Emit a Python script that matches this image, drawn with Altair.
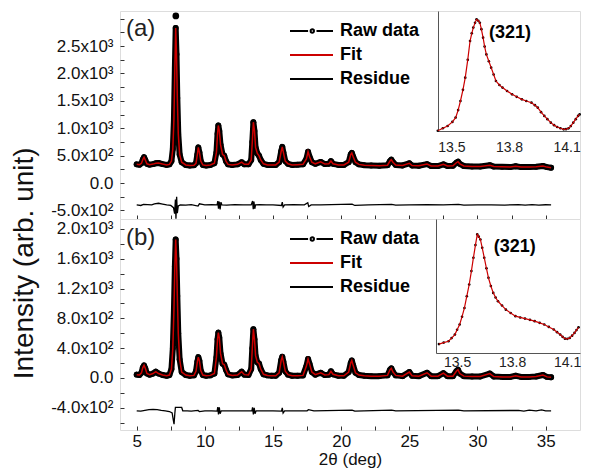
import altair as alt
import pandas as pd

FONT = "Liberation Sans"

# ---------------- shared 2-theta grid of the main patterns ----------------
main_x = [
    5.00, 5.20, 5.35, 5.45, 5.54, 5.63, 5.75, 5.95, 6.20, 6.40,
    6.60, 6.90, 7.20, 7.40, 7.55, 7.65, 7.73, 7.80, 7.86, 7.92,
    7.98, 8.05, 8.15, 8.30, 8.60, 8.90, 9.20, 9.35, 9.45, 9.52,
    9.60, 9.70, 9.85, 10.10, 10.40, 10.70, 10.85, 10.93, 10.99, 11.06,
    11.15, 11.30, 11.42, 11.55, 11.70, 12.00, 12.40, 12.70, 12.90, 13.20,
    13.40, 13.48, 13.56, 13.64, 13.72, 13.85, 13.97, 14.10, 14.30, 14.60,
    14.90, 15.20, 15.45, 15.60, 15.68, 15.76, 15.90, 16.10, 16.40, 16.80,
    17.20, 17.45, 17.57, 17.68, 17.85, 18.10, 18.50, 18.80, 19.10, 19.25,
    19.40, 19.80, 20.20, 20.55, 20.70, 20.78, 20.88, 21.05, 21.30, 21.70,
    22.20, 22.80, 23.40, 23.58, 23.68, 23.80, 24.00, 24.50, 25.00, 25.20,
    25.70, 26.30, 26.60, 27.10, 27.50, 27.80, 28.20, 28.45, 28.57, 28.70,
    29.00, 29.60, 30.20, 30.90, 31.20, 31.80, 32.40, 32.80, 33.20, 33.80,
    34.30, 34.80, 35.10, 35.40,
]

# ---------------- panel (a) ----------------
a_fit = [
    340, 335, 360, 430, 470, 420, 350, 335, 345, 360,
    365, 345, 330, 340, 400, 620, 1150, 2100, 2830, 2350,
    1550, 900, 520, 380, 330, 320, 325, 360, 520, 650,
    560, 400, 330, 320, 330, 360, 560, 900, 1050, 950,
    700, 520, 500, 400, 340, 330, 340, 380, 340, 340,
    420, 750, 1110, 950, 650, 540, 500, 420, 350, 330,
    330, 330, 380, 580, 660, 560, 400, 350, 330, 335,
    340, 440, 570, 480, 380, 350, 385, 345, 350, 400,
    350, 330, 330, 380, 520, 550, 480, 380, 340, 325,
    320, 315, 325, 400, 425, 380, 330, 320, 360, 320,
    315, 345, 310, 310, 340, 310, 315, 370, 390, 350,
    310, 300, 300, 325, 300, 295, 290, 305, 290, 290,
    295, 310, 290, 280,
]
a_apex_x = [7.87]
a_apex_y = [3050]

a_res_x = [
    5.00, 5.30, 5.50, 5.80, 6.10, 6.30, 6.60, 6.90, 7.20, 7.50,
    7.70, 7.78, 7.84, 7.88, 7.93, 7.98, 8.05, 8.20, 8.60, 9.00,
    9.50, 9.60, 10.00, 10.50, 10.90, 10.95, 11.00, 11.05, 11.12, 11.18,
    11.25, 11.60, 12.20, 12.80, 13.40, 13.50, 13.55, 13.60, 13.66, 13.72,
    14.00, 14.50, 15.00, 15.62, 15.68, 15.74, 15.85, 16.50, 17.30, 17.55,
    17.62, 17.80, 18.50, 20.80, 21.00, 22.00, 23.70, 24.00, 25.00, 26.30,
    27.50, 28.60, 29.00, 30.00, 31.00, 32.00, 33.00, 33.50, 34.00, 34.50,
    35.00, 35.40,
]
a_res_y = [
    -400, -410, -390, -395, -400, -380, -370, -385, -400, -410,
    -450, -560, -300, -650, -250, -550, -420, -400, -405, -395,
    -420, -380, -400, -395, -400, -330, -470, -340, -480, -350,
    -400, -405, -395, -400, -400, -330, -480, -340, -470, -400,
    -395, -400, -400, -410, -350, -440, -400, -395, -400, -360,
    -430, -400, -398, -385, -410, -400, -390, -405, -400, -395,
    -400, -390, -402, -398, -400, -402, -395, -405, -396, -403,
    -397, -400,
]

a_ins_x = [
    13.429, 13.455, 13.480, 13.505, 13.522, 13.535, 13.547, 13.560, 13.572, 13.585,
    13.597, 13.606, 13.614, 13.623, 13.631, 13.640, 13.648, 13.656, 13.665, 13.673,
    13.682, 13.695, 13.707, 13.720, 13.732, 13.750, 13.766, 13.790, 13.816, 13.840,
    13.867, 13.890, 13.917, 13.935, 13.950, 13.967, 13.984, 14.000, 14.018, 14.035,
    14.051, 14.068, 14.085, 14.097, 14.110, 14.122, 14.135, 14.148, 14.160, 14.168,
]
a_ins_y = [
    322, 340, 356, 385, 416, 470, 535, 615, 702, 830,
    965, 1020, 1061, 1095, 1120, 1110, 1096, 1050, 989, 925,
    869, 820, 774, 725, 678, 650, 631, 607, 583, 565,
    547, 535, 523, 505, 487, 455, 428, 405, 380, 362,
    349, 340, 332, 333, 339, 355, 380, 405, 428, 439,
]

# ---------------- panel (b) ----------------
b_fit = [
    45, 40, 70, 140, 170, 130, 60, 45, 60, 85,
    60, 40, 30, 40, 120, 400, 900, 1500, 1860, 1600,
    1100, 600, 250, 80, 40, 30, 35, 90, 220, 280,
    230, 100, 40, 30, 35, 60, 280, 520, 610, 540,
    330, 190, 180, 110, 50, 35, 40, 85, 45, 40,
    120, 400, 655, 520, 300, 210, 195, 120, 50, 35,
    30, 30, 70, 240, 285, 220, 90, 45, 30, 30,
    35, 160, 255, 190, 80, 45, 70, 40, 45, 90,
    50, 30, 30, 80, 200, 235, 170, 70, 40, 30,
    25, 25, 35, 110, 130, 80, 35, 25, 80, 30,
    25, 70, 25, 25, 65, 25, 25, 90, 110, 60,
    25, 20, 20, 60, 20, 15, 15, 30, 15, 15,
    20, 40, 15, 10,
]

b_res_x = [
    5.00, 5.30, 5.60, 5.90, 6.20, 6.50, 6.80, 7.10, 7.40, 7.60,
    7.68, 7.74, 7.80, 7.84, 8.30, 8.38, 8.70, 9.00, 9.50, 9.60,
    10.00, 10.50, 10.90, 10.95, 11.00, 11.06, 11.12, 11.20, 11.60, 12.20,
    12.80, 13.45, 13.50, 13.56, 13.62, 13.68, 13.76, 14.20, 15.00, 15.62,
    15.68, 15.74, 15.85, 16.50, 17.50, 17.60, 18.00, 20.80, 21.00, 23.70,
    24.00, 28.60, 29.00, 33.00, 33.40, 33.80, 34.30, 34.70, 35.00, 35.40,
]
b_res_y = [
    -440, -445, -435, -425, -420, -425, -435, -440, -450, -470,
    -560, -620, -470, -395, -395, -440, -440, -445, -435, -450,
    -440, -440, -445, -390, -490, -395, -480, -440, -440, -442,
    -440, -440, -395, -490, -400, -480, -440, -440, -440, -445,
    -400, -470, -440, -440, -440, -425, -440, -430, -445, -432,
    -442, -432, -442, -435, -445, -432, -440, -428, -440, -440,
]

b_ins_x = [
    13.401, 13.427, 13.453, 13.470, 13.488, 13.500, 13.514, 13.527, 13.540, 13.553,
    13.566, 13.578, 13.589, 13.600, 13.610, 13.618, 13.627, 13.637, 13.648, 13.660,
    13.671, 13.684, 13.697, 13.710, 13.723, 13.745, 13.766, 13.792, 13.818, 13.844,
    13.870, 13.897, 13.923, 13.950, 13.975, 14.000, 14.027, 14.045, 14.062, 14.075,
    14.088, 14.101, 14.114, 14.127, 14.140, 14.151, 14.162,
]
b_ins_y = [
    88, 96, 103, 120, 139, 165, 193, 235, 282, 345,
    408, 480, 552, 620, 677, 665, 650, 605, 552, 495,
    444, 400, 363, 338, 318, 295, 273, 255, 238, 231,
    225, 218, 211, 202, 193, 180, 166, 152, 139, 127,
    117, 116, 121, 133, 148, 163, 178,
]

# ---------------- axes / labels ----------------
x_ticks = [5, 7.5, 10, 12.5, 15, 17.5, 20, 22.5, 25, 27.5, 30, 32.5, 35]
x_label_vals = [5, 10, 15, 20, 25, 30, 35]
x_labels = ["5", "10", "15", "20", "25", "30", "35"]

a_yticks = [-500, -250, 0, 250, 500, 750, 1000, 1250, 1500, 1750, 2000, 2250, 2500, 2750, 3000]
a_ylab_vals = [-500, 0, 500, 1000, 1500, 2000, 2500]
a_ylabs = ["-5.0x10²", "0.0", "5.0x10²", "1.0x10³", "1.5x10³", "2.0x10³", "2.5x10³"]

b_yticks = [-600, -400, -200, 0, 200, 400, 600, 800, 1000, 1200, 1400, 1600, 1800, 2000]
b_ylab_vals = [-400, 0, 400, 800, 1200, 1600, 2000]
b_ylabs = ["-4.0x10²", "0.0", "4.0x10²", "8.0x10²", "1.2x10³", "1.6x10³", "2.0x10³"]

inset_ticks = [13.5, 13.8, 14.1]
inset_label = ["(321)"]
panel_tags = ["(a)", "(b)"]
y_title = "Intensity (arb. unit)"
x_title = "2θ (deg)"

legend_labels = ["Raw data", "Fit", "Residue"]
legend_colors = ["#000000", "#cc0000", "#000000"]
legend_paths = [
    "M-0.8,0L2.82,0M4.5,0L7.8,0M3.32,0A0.34,0.34 0 1,1 4.0,0A0.34,0.34 0 1,1 3.32,0Z",
    "M-0.8,0L7.8,0",
    "M-0.8,0L7.8,0",
]

X_DOMAIN = [3.775, 37.52]
W = 460


def expr_map(vals, labels):
    e = "''"
    for v, l in reversed(list(zip(vals, labels))):
        e = f"datum.value == {v} ? '{l}' : {e}"
    return e


def make_panel(fit, res_x, res_y, ydom, yticks, ylab_vals, ylabs, height,
               show_x, tag, ins_x, ins_y, ins_xdom, ins_ydom,
               ins_xrange, ins_yrange, ins_lab_x, ins_lab_y, ins_pad,
               apex_x=None, apex_y=None):
    xs = alt.Scale(domain=X_DOMAIN, nice=False, zero=False)
    ys = alt.Scale(domain=ydom, nice=False, zero=False)

    xa = dict(orient="bottom", values=x_ticks, domain=False, offset=-4, tickSize=4,
              tickColor="#333", grid=False, labelOverlap=False, labelFlush=False)
    if show_x:
        xa.update(labels=True, labelExpr=expr_map(x_label_vals, x_labels),
                  labelFontSize=17, labelColor="#111", labelPadding=3, labelFont=FONT,
                  title=x_title, titleFontSize=17, titleFont=FONT,
                  titleFontWeight="normal", titleColor="#111", titleY=25,
                  titleBaseline="top")
    else:
        xa.update(labels=False, title=None)
    xaxis = alt.Axis(**xa)

    yaxis = alt.Axis(orient="left", values=yticks, domain=False, offset=-4, tickSize=4,
                     tickColor="#333", grid=False, labelOverlap=False, labelFlush=False,
                     labelExpr=expr_map(ylab_vals, ylabs), labelFontSize=17,
                     labelColor="#111", labelPadding=7, labelFont=FONT, title=None)

    df = pd.DataFrame({"x": main_x, "fit": fit})
    rdf = pd.DataFrame({"x": res_x, "res": res_y})

    def enc(chart, yfield, xaxis_=None, yaxis_=None):
        return chart.encode(
            x=alt.X("x:Q", scale=xs, axis=xaxis_),
            y=alt.Y(f"{yfield}:Q", scale=ys, axis=yaxis_),
        )

    raw_line = enc(alt.Chart(df).mark_line(color="black", strokeWidth=6,
                                           strokeJoin="round", strokeCap="round"),
                   "fit", xaxis, yaxis)
    raw_pts = enc(alt.Chart(df).mark_circle(color="black", size=34, opacity=1), "fit")
    fit_line = enc(alt.Chart(df).mark_line(color="#cc0000", strokeWidth=1.5), "fit")
    res_line = enc(alt.Chart(rdf).mark_line(color="black", strokeWidth=1.3), "res")

    leg = alt.Legend(orient="none", legendX=165, legendY=10, title=None,
                     labelFont=FONT, labelFontSize=18, labelFontWeight="bold",
                     labelColor="#000", symbolSize=100, symbolStrokeWidth=2,
                     clipHeight=20, rowPadding=4, padding=0, labelOffset=37,
                     symbolOpacity=1)
    leg_layer = alt.Chart(pd.DataFrame({"series": legend_labels})).mark_point(
        filled=False, strokeWidth=2, opacity=1
    ).encode(
        color=alt.Color("series:N", scale=alt.Scale(domain=legend_labels, range=legend_colors), legend=leg),
        shape=alt.Shape("series:N", scale=alt.Scale(domain=legend_labels, range=legend_paths), legend=leg),
    ).transform_filter("false")

    layers = [raw_line, raw_pts]
    if apex_x:
        adf = pd.DataFrame({"x": apex_x, "fit": apex_y})
        layers.append(enc(alt.Chart(adf).mark_circle(color="black", size=45, opacity=1), "fit"))
    layers += [fit_line, res_line, leg_layer]

    # ---------- inset ----------
    ixs = alt.Scale(domain=ins_xdom, range=ins_xrange, nice=False, zero=False)
    iys = alt.Scale(domain=ins_ydom, range=ins_yrange, nice=False, zero=False)
    ixaxis = alt.Axis(orient="bottom", offset=ins_yrange[0] - height, values=inset_ticks,
                      format=".1f", domain=True, domainColor="#555", ticks=False, grid=False,
                      labelFontSize=14, labelFont=FONT, labelColor="#222",
                      labelPadding=ins_pad, title=None, labelOverlap=False, labelFlush=False)
    iyaxis = alt.Axis(orient="left", offset=-ins_xrange[0], domain=True, domainColor="#555",
                      ticks=False, labels=False, grid=False, title=None)
    idf = pd.DataFrame({"x": ins_x, "y": ins_y})
    ins_pts = alt.Chart(idf).mark_circle(color="black", size=7, opacity=1).encode(
        x=alt.X("x:Q", scale=ixs, axis=ixaxis), y=alt.Y("y:Q", scale=iys, axis=iyaxis))
    ins_fit = alt.Chart(idf).mark_line(color="#cc0000", strokeWidth=1.2).encode(
        x=alt.X("x:Q", scale=ixs, axis=None), y=alt.Y("y:Q", scale=iys, axis=None))
    ldf = pd.DataFrame({"x": [ins_lab_x], "y": [ins_lab_y], "t": inset_label})
    ins_txt = alt.Chart(ldf).mark_text(font=FONT, fontSize=18, fontWeight="bold", color="black").encode(
        x=alt.X("x:Q", scale=ixs, axis=None), y=alt.Y("y:Q", scale=iys, axis=None), text="t:N")
    layers += [ins_pts, ins_fit, ins_txt]

    return alt.layer(*layers).resolve_scale(x="independent", y="independent").properties(
        width=W, height=height,
        title=alt.TitleParams(tag, anchor="start", frame="group", offset=-31, dx=6,
                              fontSize=24, fontWeight="normal", color="#222", font=FONT),
    )


pa = make_panel(a_fit, a_res_x, a_res_y, [-657, 3139], a_yticks, a_ylab_vals, a_ylabs, 208,
                False, panel_tags[0], a_ins_x, a_ins_y,
                [13.43, 14.17], [320, 1180], [318, W], [120, 0], 13.805, 1022, 9,
                apex_x=a_apex_x, apex_y=a_apex_y)
pb = make_panel(b_fit, b_res_x, b_res_y, [-698, 2134], b_yticks, b_ylab_vals, b_ylabs, 211,
                True, panel_tags[1], b_ins_x, b_ins_y,
                [13.385, 14.17], [40, 760], [316, W], [134, 0], 13.814, 610, 2)

chart = alt.vconcat(pa, pb, spacing=0).resolve_scale(
    color="independent", shape="independent"
).resolve_legend(color="independent", shape="independent").properties(
    bounds="flush",
    padding={"left": 3, "top": 1, "right": 0, "bottom": 0},
    title=alt.TitleParams(y_title, orient="left", anchor="middle", fontSize=28,
                          fontWeight="normal", color="#111", font=FONT, offset=11, dx=-25),
).configure_view(stroke="#555", strokeWidth=1).configure(font=FONT)

chart.save("out.html", embed_options={"renderer": "svg", "actions": False})
